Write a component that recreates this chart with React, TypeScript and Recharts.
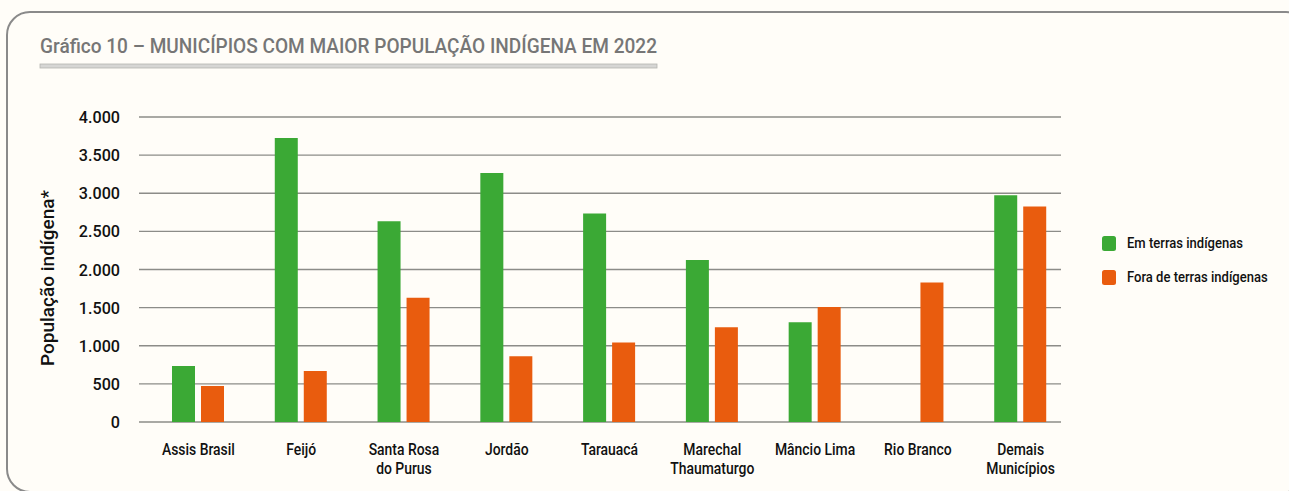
import React from "react";
import { BarChart, Bar, XAxis, YAxis, CartesianGrid } from "recharts";

const categories = [
  "Assis Brasil",
  "Feijó",
  "Santa Rosa do Purus",
  "Jordão",
  "Tarauacá",
  "Marechal Thaumaturgo",
  "Mâncio Lima",
  "Rio Branco",
  "Demais Municípios",
];
// how each category label is broken over lines under the axis
const categoryLines = [
  ["Assis Brasil"],
  ["Feijó"],
  ["Santa Rosa", "do Purus"],
  ["Jordão"],
  ["Tarauacá"],
  ["Marechal", "Thaumaturgo"],
  ["Mâncio Lima"],
  ["Rio Branco"],
  ["Demais", "Municípios"],
];
const emTerras = [734, 3725, 2632, 3266, 2733, 2125, 1308, 0, 2973];
const foraTerras = [472, 669, 1631, 862, 1041, 1242, 1508, 1828, 2825];
const yTicks = [0, 500, 1000, 1500, 2000, 2500, 3000, 3500, 4000];
const seriesLabels = ["Em terras indígenas", "Fora de terras indígenas"];

const GREEN = "#3ba935";
const ORANGE = "#e95c0e";
const BG = "#fffdf8";
const FONT = "Roboto, 'Liberation Sans', sans-serif";
const NARROW = 0.87; // the original uses a condensed face

if (typeof document !== "undefined") {
  document.body.style.margin = "0";
  document.body.style.background = BG;
}

const data = categories.map((name, i) => ({
  name,
  em: emTerras[i],
  fora: foraTerras[i],
}));

const fmt = (v: number) => String(v).replace(/\B(?=(\d{3})+(?!\d))/g, ".");

const CategoryTick = (props: any) => {
  const { x, y, payload, index } = props;
  const lines = categoryLines[index] || [payload.value];
  return (
    <g transform={`translate(${x},${y}) scale(${NARROW},1)`}>
      {lines.map((ln: string, i: number) => (
        <text
          key={i}
          x={0}
          y={25 + i * 19}
          textAnchor="middle"
          fontFamily={FONT}
          fontWeight={500}
          fontSize={16}
          fill="#111"
        >
          {ln}
        </text>
      ))}
    </g>
  );
};

const ValueTick = (props: any) => {
  const { x, y, payload } = props;
  return (
    <g transform={`translate(${x},${y}) scale(0.95,1)`}>
      <text x={0} y={6} textAnchor="end" fontFamily={FONT} fontWeight={500} fontSize={17} fill="#111">
        {fmt(payload.value)}
      </text>
    </g>
  );
};

export default function App() {
  return (
    <div
      style={{
        position: "relative",
        width: 1289,
        height: 491,
        background: BG,
        overflow: "hidden",
      }}
    >
      <div
        style={{
          position: "absolute",
          left: 6,
          top: 11,
          width: 1300,
          height: 478,
          border: "2.5px solid #8a8a8a",
          borderRadius: 24,
        }}
      />
      <svg
        width={1289}
        height={491}
        style={{ position: "absolute", left: 0, top: 0, pointerEvents: "none" }}
      >
        <text
          x={40}
          y={53}
          fontFamily={FONT}
          fontWeight={500}
          fontSize={20}
          fill="#767676"
          textLength={617}
          lengthAdjust="spacingAndGlyphs"
        >
          Gráfico 10 – MUNICÍPIOS COM MAIOR POPULAÇÃO INDÍGENA EM 2022
        </text>
        <rect x={40} y={64} width={617} height={4} fill="#d6d6d4" stroke="#b4b4b0" strokeWidth={0.8} />
        <text
          transform="translate(54,278) rotate(-90)"
          textAnchor="middle"
          fontFamily={FONT}
          fontWeight={500}
          fontSize={18}
          fill="#111"
          textLength={176}
          lengthAdjust="spacingAndGlyphs"
        >
          População indígena*
        </text>
        {seriesLabels.map((label, i) => (
          <g key={label} transform={`translate(1102,${236 + i * 34})`}>
            <rect width={14} height={15} rx={2.5} fill={i === 0 ? GREEN : ORANGE} />
            <text
              transform={`translate(25,12) scale(${NARROW},1)`}
              fontFamily={FONT}
              fontWeight={500}
              fontSize={15}
              fill="#111"
            >
              {label}
            </text>
          </g>
        ))}
      </svg>
      <div style={{ position: "absolute", left: 0, top: 0 }}>
        <BarChart
          width={1289}
          height={491}
          data={data}
          margin={{ top: 117, right: 217, bottom: 9, left: 59 }}
          barSize={23}
          barGap={6}
        >
          <CartesianGrid
            vertical={false}
            x={139}
            width={922}
            stroke="#8c8c88"
            strokeWidth={1.3}
          />
          <XAxis
            dataKey="name"
            axisLine={false}
            tickLine={false}
            height={60}
            interval={0}
            padding={{ left: 8, right: 0 }}
            tick={<CategoryTick />}
          />
          <YAxis
            width={80}
            domain={[0, 4000]}
            ticks={yTicks}
            axisLine={false}
            tickLine={false}
            tickMargin={13}
            tick={<ValueTick />}
          />
          <Bar dataKey="em" name={seriesLabels[0]} fill={GREEN} isAnimationActive={false} />
          <Bar dataKey="fora" name={seriesLabels[1]} fill={ORANGE} isAnimationActive={false} />
        </BarChart>
      </div>
    </div>
  );
}
